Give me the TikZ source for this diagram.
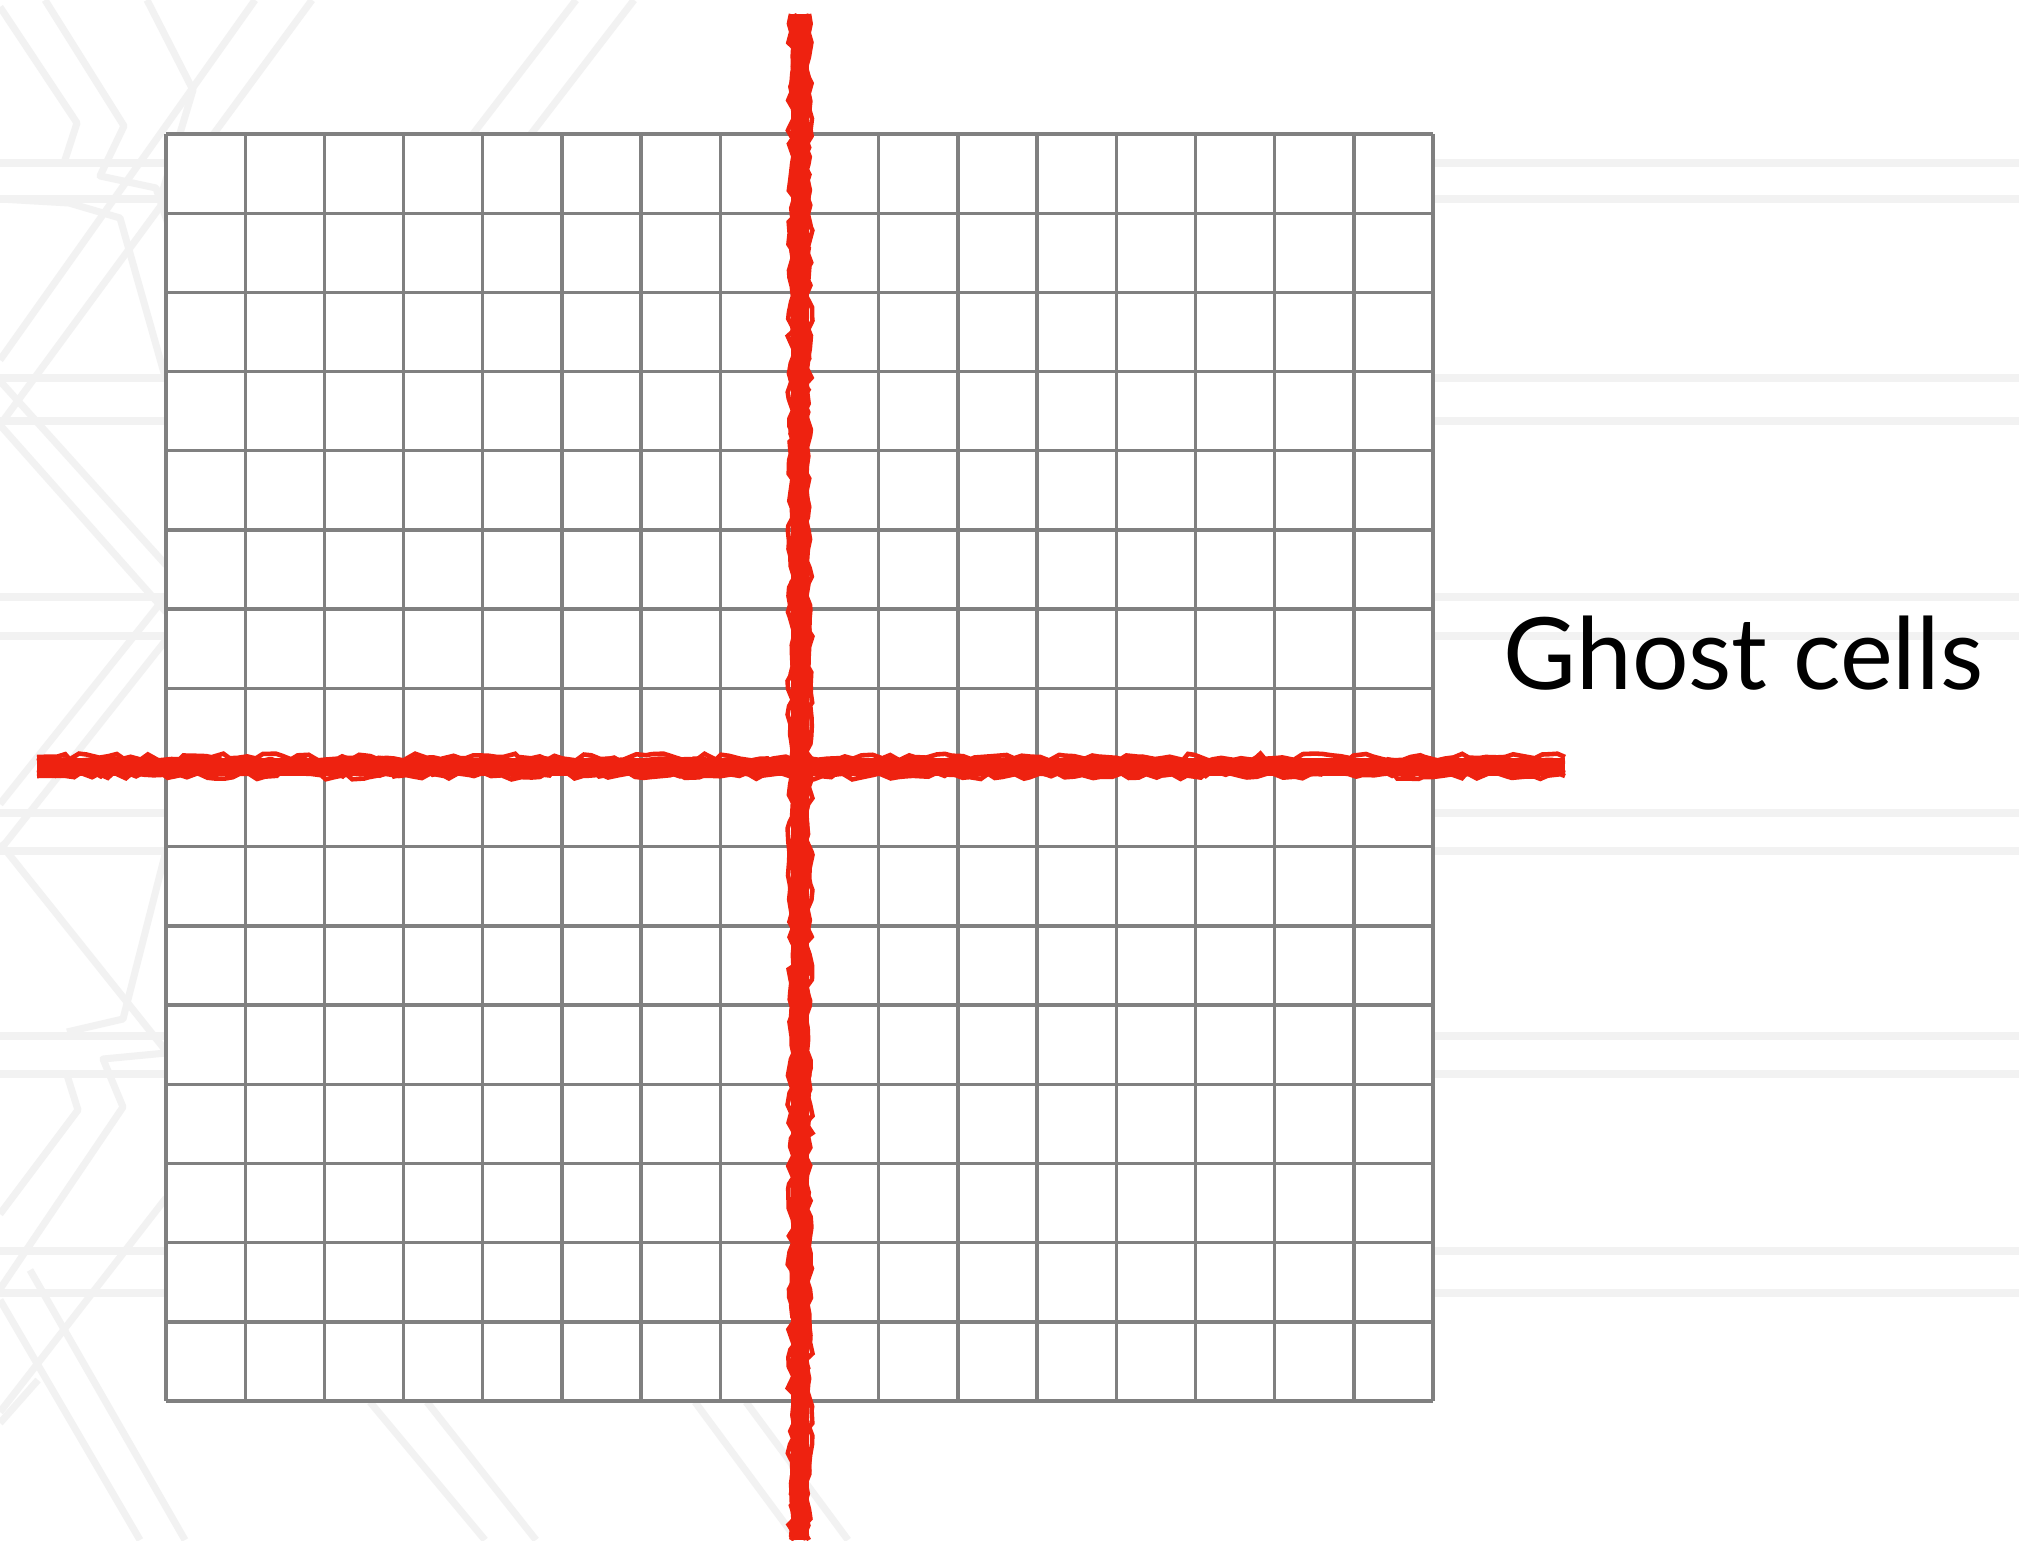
\documentclass[tikz,border=0pt]{standalone}
\usepackage{fontspec}
\setmainfont{Lato}
\usetikzlibrary{decorations.pathmorphing}
\definecolor{gridgray}{RGB}{128,128,128}
\definecolor{redc}{RGB}{238,34,16}
\definecolor{bgline}{RGB}{242,242,242}
\tikzset{
  bgstroke/.style={draw=bgline, line width=2pt, line join=round},
  gridline/.style={draw=gridgray, line width=0.95pt},
  redcore/.style={draw=redc, line width=5pt},
  redrough/.style={draw=redc, line width=1.3pt, decorate,
    decoration={random steps, segment length=2.5pt, amplitude=1pt}},
  labeltext/.style={font=\fontsize{28.4}{34}\selectfont, inner sep=0pt, anchor=base west}
}
\begin{document}
\begin{tikzpicture}[x=0.01cm,y=-0.01cm]
\pgfmathsetseed{42}
\useasboundingbox (0,0) rectangle (2019,1540);
\fill[white] (0,0) rectangle (2019,1540);
% faint background decoration
\foreach \a/\b in {163/199,378/421,597/636,813/851,1036/1074,1251/1293} {
  \draw[bgstroke] (0,\a) -- (2019,\a);
  \draw[bgstroke] (0,\b) -- (2019,\b);
}
\draw[bgstroke] (0,7) -- (77,123) -- (64,163);
\draw[bgstroke] (45,0) -- (124,126) -- (100,176) -- (156,188) -- (170,230);
\draw[bgstroke] (147,0) -- (193,90) -- (160,200);
\draw[bgstroke] (255,0) -- (0,360);
\draw[bgstroke] (312,0) -- (0,425);
\draw[bgstroke] (576,0) -- (473,134);
\draw[bgstroke] (634,0) -- (531,134);
\draw[bgstroke] (0,199) -- (69,203) -- (120,218) -- (166,380);
\draw[bgstroke] (0,381) -- (166,565);
\draw[bgstroke] (0,425) -- (166,612);
\draw[bgstroke] (166,596) -- (0,804);
\draw[bgstroke] (166,640) -- (0,850);
\draw[bgstroke] (0,843) -- (166,1051);
\draw[bgstroke] (166,851) -- (123,1019) -- (67,1032);
\draw[bgstroke] (166,1053) -- (103,1059) -- (123,1107) -- (0,1289);
\draw[bgstroke] (67,1075) -- (78,1110) -- (0,1214);
\draw[bgstroke] (0,1412) -- (166,1198);
\draw[bgstroke] (0,1423) -- (38,1380);
\draw[bgstroke] (0,1300) -- (140,1540);
\draw[bgstroke] (30,1270) -- (185,1540);
\draw[bgstroke] (370,1402) -- (485,1540);
\draw[bgstroke] (427,1402) -- (536,1540);
\draw[bgstroke] (695,1402) -- (797,1540);
\draw[bgstroke] (746,1402) -- (848,1540);
% grid
\fill[white] (166,134) rectangle (1433,1401);
\foreach \i in {0,...,16} {
  \draw[gridline] ({166+\i*79.19},134) -- ({166+\i*79.19},1401);
  \draw[gridline] (166,{134+\i*79.19}) -- (1433,{134+\i*79.19});
}
% red crayon lines
\coordinate (vtop) at (800,14);
\coordinate (vbot) at (800,1540);
\coordinate (hl) at (37,767);
\coordinate (hr) at (1565,767);
\draw[redcore] (vtop) -- (vbot);
\foreach \d in {-9,-6,6,9} {
  \draw[redrough] ([xshift=\d*0.2845pt]vtop) -- ([xshift=\d*0.2845pt]vbot);
}
\draw[redcore] (hl) -- (hr);
\foreach \d in {-9,-6,6,10} {
  \draw[redrough] ([yshift=\d*0.2845pt]hl) -- ([yshift=\d*0.2845pt]hr);
}
% label
\node[labeltext] (ghost) at (1503,689) {Ghost cells};
\end{tikzpicture}
\end{document}
